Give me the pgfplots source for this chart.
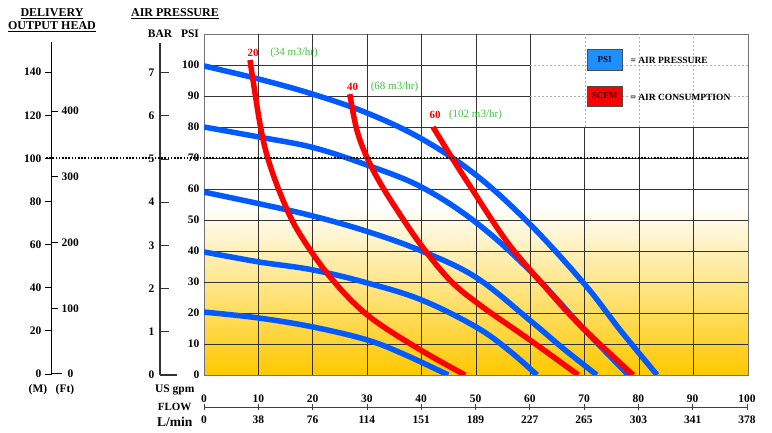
\documentclass[border=0pt]{standalone}
\usepackage{fontspec}
\setmainfont{Liberation Serif}
\usepackage{pgfplots}
\pgfplotsset{compat=1.18}
\pgfplotsset{/pgf/number format/assume math mode=true}

\definecolor{pblue}{RGB}{0,90,255}
\definecolor{pred}{RGB}{255,0,0}
\definecolor{pgreen}{RGB}{60,200,60}
\definecolor{pgold}{RGB}{255,200,0}
\definecolor{boxblue}{RGB}{30,144,255}
\newcommand\tkf{\bfseries\fontsize{11.5}{12}\selectfont}

\tikzset{
  gridc/.style={black!80, line width=0.8pt},
  gridd/.style={black!30, line width=0.6pt, dash pattern=on 2pt off 2pt},
}
\pgfplotsset{
  psi/.style={pblue, line width=5.5pt, smooth, tension=0.6, no markers},
  scfm/.style={pred, line width=5.5pt, smooth, tension=0.6, no markers},
}

\begin{document}
\begin{tikzpicture}[x=1pt,y=1pt]
\useasboundingbox (0,0) rectangle (772,433);

% main chart: flow (US gpm) against air pressure (psi)
\begin{axis}[
  at={(204pt,58pt)}, anchor=south west,
  scale only axis, width=544pt, height=341pt,
  xmin=0, xmax=100, ymin=0, ymax=110,
  xtick=\empty, ytick={0,10,...,100},
  major tick length=0pt,
  axis line style={black!55, line width=0.8pt},
  axis background/.style={top color=white, bottom color=pgold, middle color=white},
  yticklabel style={font=\tkf, xshift=-1pt},
]
% grid, dashed in the legend corner
\pgfplotsinvokeforeach{10,20,30,40,50,60}{\draw[gridc] (axis cs:#1,0) -- (axis cs:#1,110);}
\pgfplotsinvokeforeach{70,80,90}{
  \draw[gridc] (axis cs:#1,0) -- (axis cs:#1,80);
  \draw[gridd] (axis cs:#1,80) -- (axis cs:#1,110);}
\pgfplotsinvokeforeach{10,20,30,40,50,60,70,80}{\draw[gridc] (axis cs:0,#1) -- (axis cs:100,#1);}
\pgfplotsinvokeforeach{90,100}{
  \draw[gridc] (axis cs:0,#1) -- (axis cs:60,#1);
  \draw[gridd] (axis cs:60,#1) -- (axis cs:100,#1);}

% air pressure lines (100, 80, 60, 40, 20 psi)
\addplot[psi] coordinates {(0,99.7) (10,95.5) (20,90.6) (30,84.5) (40,76.2) (50,64.5) (60,48.5) (70,29.2) (76.5,14.5) (83.3,0)};
\addplot[psi] coordinates {(0,80) (10,76.8) (20,73.4) (30,67.7) (40,60.6) (50,49.2) (60,33.5) (70,14.5) (78,0)};
\addplot[psi] coordinates {(0,59) (10,55.3) (20,51.3) (30,46.3) (40,40) (50,31.5) (60,17.5) (66,8.6) (72.2,0)};
\addplot[psi] coordinates {(0,39.7) (10,36.5) (20,33.9) (30,29.7) (40,24.2) (50,15.5) (56,8) (61.2,0)};
\addplot[psi] coordinates {(0,20.3) (10,18.4) (20,15.5) (30,11.3) (37,6.5) (44.9,0)};

% air consumption lines (20, 40, 60 scfm)
\addplot[scfm] coordinates {(8.46,101.6) (9.0,95.2) (10.5,79.0) (12.0,68.4) (14.5,56.5) (17.5,45.8) (23.2,31.6) (30,19.4) (39.2,8.7) (48,0)};
\addplot[scfm] coordinates {(26.8,90.6) (28.1,79) (30,70) (32.4,61.9) (35.5,53.2) (39.9,41.9) (45.2,30.6) (50.7,22.6) (59.9,11.3) (68.8,0)};
\addplot[scfm] coordinates {(42.1,80) (45.6,70) (49.8,58.5) (53.5,48.5) (57,40) (62.7,28.4) (69.1,16.1) (78.9,0)};
\end{axis}

% flow scale, L/min below
\begin{axis}[
  at={(204pt,26pt)}, anchor=south west,
  scale only axis, width=543pt, height=1pt,
  xmin=0, xmax=100, ymin=0, ymax=1,
  hide y axis, axis x line*=bottom,
  axis line style={-, black!75, line width=0.7pt},
  xtick={0,10,...,100},
  xticklabels={0,38,76,114,151,189,227,265,303,341,378},
  tick align=center, major tick length=6pt,
  tick style={black!75, line width=0.7pt},
  xticklabel style={font=\tkf, yshift=-2pt},
]
\end{axis}
% flow scale, US gpm above
\begin{axis}[
  at={(204pt,25pt)}, anchor=south west,
  scale only axis, width=543pt, height=1pt,
  xmin=0, xmax=100, ymin=0, ymax=1,
  hide y axis, axis x line*=top,
  axis line style={draw=none},
  xtick={0,10,...,100},
  major tick length=0pt,
  xticklabel style={font=\tkf, yshift=1pt},
]
\end{axis}

% delivery head in metres
\begin{axis}[
  at={(52pt,59pt)}, anchor=south west,
  scale only axis, width=1pt, height=332pt,
  xmin=0, xmax=1, ymin=0, ymax=154,
  hide x axis, axis y line*=left,
  axis line style={-, black, line width=1pt},
  ytick={0,20,...,140},
  tick align=outside, major tick length=7pt,
  tick style={black, line width=0.9pt},
  yticklabel style={font=\tkf},
]
\end{axis}
% delivery head in feet
\begin{axis}[
  at={(51pt,59pt)}, anchor=south west,
  scale only axis, width=1pt, height=332pt,
  xmin=0, xmax=1, ymin=0, ymax=505.25,
  hide x axis, axis y line*=right,
  axis line style={draw=none},
  ytick={100,200,300,400},
  tick align=outside, major tick length=6pt,
  tick style={black, line width=0.9pt},
  yticklabel style={font=\tkf},
]
\end{axis}
% air pressure in bar
\begin{axis}[
  at={(160pt,58pt)}, anchor=south west,
  scale only axis, width=1pt, height=332pt,
  xmin=0, xmax=1, ymin=0, ymax=7.685,
  hide x axis, axis y line*=left,
  axis line style={-, black!80, line width=1.2pt},
  ytick={0,1,...,7},
  tick align=inside, major tick length=9pt,
  tick style={black!80, line width=0.9pt},
  yticklabel style={font=\tkf, xshift=-2pt},
]
\end{axis}

\draw[black, line width=1pt] (52,59) -- (62,59);
\node[font=\tkf, anchor=west] at (64,59) {0};
\draw[black!80, line width=1.2pt] (160,58) -- (177,58);

% titles and unit labels
\node[font=\bfseries\fontsize{12}{12}\selectfont] at (52,419.5) {\underline{DELIVERY}};
\node[font=\bfseries\fontsize{12}{12}\selectfont] at (52,406) {\underline{OUTPUT HEAD}};
\node[font=\bfseries\fontsize{12}{12}\selectfont] at (175,419.5) {\underline{AIR PRESSURE}};
\node[font=\tkf] at (160,399) {BAR};
\node[font=\tkf] at (190,399) {PSI};
\node[font=\tkf] at (38,43) {(M)};
\node[font=\tkf] at (65,43) {(Ft)};
\node[font=\bfseries\fontsize{11.5}{12}\selectfont, anchor=east] at (198,43) {US gpm};
\node[font=\bfseries\fontsize{11}{12}\selectfont, anchor=east] at (195,26) {FLOW};
\node[font=\bfseries\fontsize{13.5}{14}\selectfont, anchor=east] at (196,11) {L/min};

% labels of the consumption lines
\node[font=\bfseries\fontsize{11}{12}\selectfont, text=pred] at (253,380) {20};
\node[font=\fontsize{11}{12}\selectfont, text=pgreen] at (294,380) {(34 m3/hr)};
\node[font=\bfseries\fontsize{11}{12}\selectfont, text=pred] at (352.5,346) {40};
\node[font=\fontsize{11}{12}\selectfont, text=pgreen] at (394.5,346) {(68 m3/hr)};
\node[font=\bfseries\fontsize{11}{12}\selectfont, text=pred] at (435,318) {60};
\node[font=\fontsize{11}{12}\selectfont, text=pgreen] at (475.5,318) {(102 m3/hr)};

% key
\node[draw=black!70, fill=boxblue, minimum width=35pt, minimum height=21pt, inner sep=0pt,
  font=\bfseries\fontsize{9}{9}\selectfont, text=black!85!blue] at (604.5,373.5) {PSI};
\node[font=\bfseries\fontsize{9.5}{10}\selectfont, anchor=west] at (627,373) {= AIR PRESSURE};
\node[draw=black!70, fill=pred, minimum width=35pt, minimum height=20pt, inner sep=0pt,
  font=\bfseries\fontsize{9}{9}\selectfont, text=black!85!red] at (604.5,337) {SCFM};
\node[font=\bfseries\fontsize{9.5}{10}\selectfont, anchor=west] at (627,336) {= AIR CONSUMPTION};

% 100 m head line
\draw[black, line width=2pt, dash pattern=on 1.6pt off 1.6pt] (46,275) -- (748,275);
\end{tikzpicture}
\end{document}
